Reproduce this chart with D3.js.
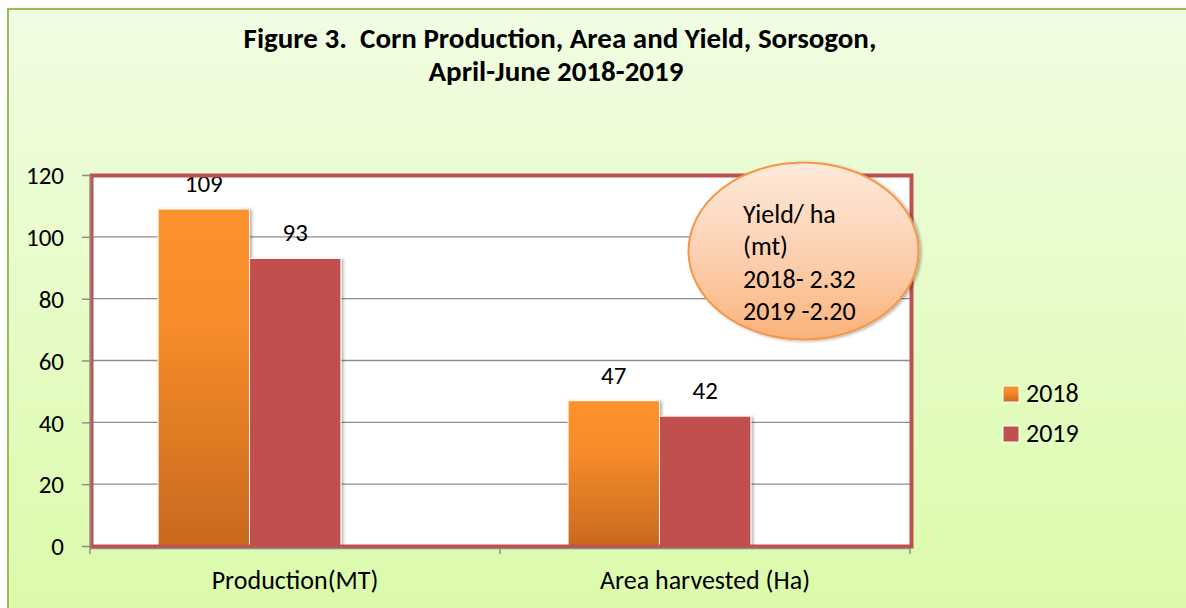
<!DOCTYPE html>
<html><head><meta charset="utf-8">
<script src="https://cdn.jsdelivr.net/npm/d3@7"></script>
<style>
html,body{margin:0;padding:0;background:#fff;}
svg{display:block;font-family:Carlito, Lato, "Open Sans", sans-serif;}
text{white-space:pre;}
</style></head>
<body>
<script>
const categories = ["Production(MT)", "Area harvested (Ha)"];
const seriesNames = ["2018", "2019"];
const values2018 = [109, 47];
const values2019 = [93, 42];
const yTicks = [0, 20, 40, 60, 80, 100, 120];
const titleLines = ["Figure 3.  Corn Production, Area and Yield, Sorsogon,", "April-June 2018-2019"];
const calloutLines = ["Yield/ ha", "(mt)", "2018- 2.32", "2019 -2.20"];

const W = 1186, H = 608;
const svg = d3.select("body").append("svg").attr("width", W).attr("height", H);
const defs = svg.append("defs");

const bg = defs.append("linearGradient").attr("id","bg").attr("x1",0).attr("y1",0).attr("x2",0).attr("y2",1);
bg.append("stop").attr("offset","0%").attr("stop-color","#f1fde3");
bg.append("stop").attr("offset","100%").attr("stop-color","#dbfbaa");

const og = defs.append("linearGradient").attr("id","og").attr("x1",0).attr("y1",0).attr("x2",0).attr("y2",1);
og.append("stop").attr("offset","0%").attr("stop-color","#fe922d");
og.append("stop").attr("offset","35%").attr("stop-color","#f68c2a");
og.append("stop").attr("offset","100%").attr("stop-color","#c9691e");

const eg = defs.append("linearGradient").attr("id","eg").attr("x1",0).attr("y1",0).attr("x2",0).attr("y2",1);
eg.append("stop").attr("offset","0%").attr("stop-color","#fdeadb");
eg.append("stop").attr("offset","55%").attr("stop-color","#fccfae");
eg.append("stop").attr("offset","100%").attr("stop-color","#fbb27a");

const sh = defs.append("filter").attr("id","sh").attr("x","-20%").attr("y","-20%").attr("width","140%").attr("height","140%");
sh.append("feDropShadow").attr("dx",2).attr("dy",1).attr("stdDeviation",1.5).attr("flood-color","#000").attr("flood-opacity",0.3);

// outer frame
svg.append("rect").attr("x",8).attr("y",9).attr("width",W).attr("height",H)
  .attr("fill","url(#bg)").attr("stroke","#9bbb59").attr("stroke-width",2).attr("filter","url(#sh)");

// title
const title = svg.append("text").attr("text-anchor","middle").attr("font-weight","bold")
  .attr("font-size",29).attr("fill","#000");
title.append("tspan").attr("x",560).attr("y",48).text(titleLines[0]);
title.append("tspan").attr("x",556).attr("y",81).text(titleLines[1]);

const pl = 90, pr = 910, pt = 174, pb = 546;
const y = d3.scaleLinear().domain([0,120]).range([pb, pt+1]);
const x0 = d3.scaleBand().domain(categories).range([pl, pr]).padding(0);
const bw = x0.bandwidth();
const x1 = d3.scaleBand().domain(seriesNames).range([bw*0.166, bw*0.612]).padding(0);
const color = {"2018":"url(#og)","2019":"#c0504d"};
const data = categories.map((c,i)=>({cat:c, vals:[{s:"2018",v:values2018[i]},{s:"2019",v:values2019[i]}]}));

// plot area
svg.append("rect").attr("x",pl).attr("y",pt).attr("width",pr-pl).attr("height",pb-pt).attr("fill","#fff");

// grid
svg.append("g").selectAll("line").data(yTicks.filter(t=>t>0 && t<120)).join("line")
  .attr("x1",pl).attr("x2",pr).attr("y1",d=>y(d)).attr("y2",d=>y(d))
  .attr("stroke","#8c8c8c").attr("stroke-width",1.3);

// bars
const g = svg.append("g").selectAll("g").data(data).join("g").attr("transform",d=>`translate(${x0(d.cat)},0)`);
g.selectAll("rect").data(d=>d.vals).join("rect")
  .attr("x",d=>x1(d.s)).attr("width",x1.bandwidth()).attr("y",d=>y(d.v)).attr("height",d=>pb-y(d.v))
  .attr("fill",d=>color[d.s]).attr("stroke","#fff").attr("stroke-width",1).attr("filter","url(#sh)");
g.selectAll("text").data(d=>d.vals).join("text")
  .attr("x",d=>x1(d.s)+x1.bandwidth()/2).attr("y",d=>y(d.v)-17)
  .attr("text-anchor","middle").attr("font-size",25).attr("fill","#000").text(d=>d.v);

// plot border
svg.append("rect").attr("x",pl+1.5).attr("y",pt+1.5).attr("width",pr-pl).attr("height",pb-pt-1)
  .attr("fill","none").attr("stroke","#c0504d").attr("stroke-width",4);

// y axis
const ya = svg.append("g").attr("transform",`translate(${pl},0)`)
  .call(d3.axisLeft(y).tickValues(yTicks).tickSize(8).tickSizeOuter(0));
ya.attr("font-family",null).attr("font-size",null);
ya.select(".domain").attr("stroke","#8c8c8c").attr("stroke-width",1.5);
ya.selectAll(".tick line").attr("stroke","#8c8c8c").attr("stroke-width",1.5);
ya.selectAll(".tick text").attr("font-size",25).attr("fill","#000").attr("x",-26).attr("dy","0.35em");

// x axis
const xa = svg.append("g").attr("transform",`translate(0,${pb+2})`)
  .call(d3.axisBottom(x0).tickSize(0).tickSizeOuter(0));
xa.attr("font-family",null).attr("font-size",null);
xa.select(".domain").attr("stroke","#8c8c8c").attr("stroke-width",1.5);
xa.selectAll(".tick text").attr("font-size",26).attr("fill","#000").attr("y",41).attr("dy",0);
svg.append("g").selectAll("line").data([pl, pl+bw, pr]).join("line")
  .attr("x1",d=>d).attr("x2",d=>d).attr("y1",pb+2).attr("y2",pb+8)
  .attr("stroke","#8c8c8c").attr("stroke-width",1.5);

// callout ellipse
svg.append("ellipse").attr("cx",803.5).attr("cy",251).attr("rx",115).attr("ry",88.5)
  .attr("fill","url(#eg)").attr("stroke","#f79646").attr("stroke-width",2).attr("filter","url(#sh)");
const ct = svg.append("text").attr("font-size",26).attr("fill","#000");
calloutLines.forEach((l,i)=>ct.append("tspan").attr("x",743).attr("y",223+i*32.3).text(l));

// legend
const lg = svg.append("g").selectAll("g").data(seriesNames).join("g")
  .attr("transform",(d,i)=>`translate(1003,${386+i*40})`);
lg.append("rect").attr("width",16).attr("height",16).attr("fill",d=>color[d]).attr("stroke","#fff").attr("stroke-width",1);
lg.append("text").attr("x",23).attr("y",16).attr("font-size",26).attr("fill","#000").text(d=>d);
</script>
</body></html>
